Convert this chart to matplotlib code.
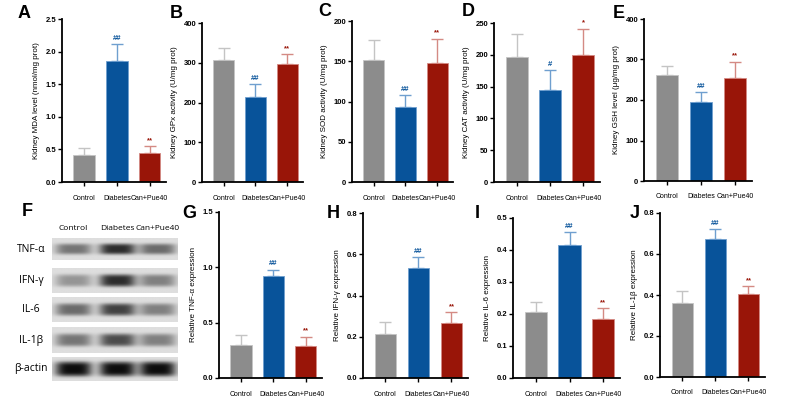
import matplotlib.pyplot as plt
import numpy as np

plt.rcParams['font.family'] = ['Liberation Sans', 'DejaVu Sans']

W, H = 793, 403

groups = ["Control", "Diabetes", "Can+Pue40"]

mda = [0.41, 1.85, 0.44]
mda_err = [0.11, 0.26, 0.11]
gpx = [307, 214, 298]
gpx_err = [30, 33, 24]
sod = [151, 93, 148]
sod_err = [26, 15, 30]
cat = [197, 145, 199]
cat_err = [35, 31, 42]
gsh = [261, 196, 254]
gsh_err = [23, 24, 41]
tnf = [0.30, 0.92, 0.29]
tnf_err = [0.09, 0.06, 0.085]
ifn = [0.215, 0.535, 0.265]
ifn_err = [0.055, 0.05, 0.053]
il6 = [0.207, 0.415, 0.183]
il6_err = [0.03, 0.042, 0.035]
il1b = [0.36, 0.675, 0.405]
il1b_err = [0.06, 0.045, 0.037]

marks_dd = ["", "##", "**"]
marks_s = ["", "#", "*"]

# western blot band darkness (0..1), rows x lanes
blot_rows = ["TNF-\u03b1", "IFN-\u03b3", "IL-6", "IL-1\u03b2", "\u03b2-actin"]
blot_dark = [
    [0.50, 0.85, 0.55],
    [0.35, 0.85, 0.45],
    [0.55, 0.75, 0.45],
    [0.50, 0.70, 0.45],
    [1.00, 1.00, 1.00],
]

bar_colors = ["#8c8c8c", "#08539a", "#991508"]
err_colors = ["#c4c4c4", "#6f9fcf", "#d48a84"]

fig = plt.figure(figsize=(W / 100, H / 100), dpi=100)


def px_axes(x0, yt, x1, yb):
    return fig.add_axes([x0 / W, 1 - yb / H, (x1 - x0) / W, (yb - yt) / H])


def bar_panel(rect, vals, errs, marks, ymax, ystep, ylabel, fmt):
    ax = px_axes(*rect)
    x = np.arange(len(groups))
    for i in range(len(groups)):
        ax.errorbar(x[i], vals[i], yerr=[[0], [errs[i]]], fmt='none',
                    ecolor=err_colors[i], elinewidth=1, capsize=4, capthick=1, zorder=1)
        ax.bar(x[i], vals[i], width=0.66, color=bar_colors[i],
               edgecolor=err_colors[i], linewidth=0.6, zorder=2)
        if marks[i]:
            ax.annotate(marks[i], (x[i], vals[i] + errs[i]), xytext=(0, 1.5),
                        textcoords='offset points', ha='center', va='bottom',
                        fontsize=5.5, color=bar_colors[i], fontweight='bold')
    ax.set_xlim(-0.68, 2.5)
    ax.set_ylim(0, ymax)
    ax.set_yticks(np.arange(0, ymax + ystep / 2, ystep))
    ax.yaxis.set_major_formatter(plt.FormatStrFormatter(fmt))
    ax.set_xticks(x)
    ax.set_xticklabels(groups, fontsize=5)
    ax.tick_params(axis='y', labelsize=5.5, length=3, width=1, pad=1)
    ax.tick_params(axis='x', length=3, width=1, pad=6)
    for lab in ax.get_yticklabels():
        lab.set_fontweight('bold')
    for s in ['top', 'right']:
        ax.spines[s].set_visible(False)
    for s in ['left', 'bottom']:
        ax.spines[s].set_linewidth(1.3)
    ax.set_ylabel(ylabel, fontsize=5.8, labelpad=4)
    return ax


bar_panel((62, 19, 166, 182), mda, mda_err, marks_dd, 2.5, 0.5,
          "Kidney MDA level (nmol/mg prot)", "%.1f")
bar_panel((202, 23, 303, 182), gpx, gpx_err, marks_dd, 400, 100,
          "Kidney GPx activity (U/mg prot)", "%d")
bar_panel((352, 21, 453, 182), sod, sod_err, marks_dd, 200, 50,
          "Kidney SOD activity (U/mg prot)", "%d")
bar_panel((494, 23, 600, 182), cat, cat_err, marks_s, 250, 50,
          "Kidney CAT activity (U/mg prot)", "%d")
bar_panel((644, 19, 752, 181), gsh, gsh_err, marks_dd, 400, 100,
          "Kidney GSH level (\u03bcg/mg prot)", "%d")
bar_panel((219, 212, 322, 378), tnf, tnf_err, marks_dd, 1.5, 0.5,
          "Relative TNF-\u03b1 expression", "%.1f")
bar_panel((363, 213, 468, 378), ifn, ifn_err, marks_dd, 0.8, 0.2,
          "Relative IFN-\u03b3 expression", "%.1f")
bar_panel((513, 218, 620, 378), il6, il6_err, marks_dd, 0.5, 0.1,
          "Relative IL-6 expression", "%.1f")
bar_panel((660, 213, 765, 377), il1b, il1b_err, marks_dd, 0.8, 0.2,
          "Relative IL-1\u03b2 expression", "%.1f")

# western blot panel
bx = fig.add_axes([0, 0, 190 / W, 203 / H])
bx.axis('off')
row_boxes = [(238, 260), (268, 293), (297, 322), (327, 353), (357, 381)]
box_x0, box_x1 = 52, 178
lane_c = [0.17, 0.52, 0.84]
for r, (y0, y1) in enumerate(row_boxes):
    nx, ny = 180, 40
    gx, gy = np.meshgrid(np.linspace(0, 1, nx), np.linspace(-1, 1, ny))
    img = np.full((ny, nx), 0.87)
    thick = 0.5 if r < 4 else 0.62
    for j, c in enumerate(lane_c):
        band = np.exp(-((gx - c) / 0.145) ** 4) * np.exp(-(gy / thick) ** 4)
        img -= blot_dark[r][j] * 0.82 * band
    bx.imshow(img, cmap='gray', vmin=0, vmax=1, extent=(box_x0, box_x1, y1, y0),
              aspect='auto', interpolation='bilinear')
    bx.text(31, (y0 + y1) / 2, blot_rows[r], ha='center', va='center',
            fontsize=7.5, family=['Open Sans', 'DejaVu Sans'])
for j, g in enumerate(groups):
    bx.text(box_x0 + lane_c[j] * (box_x1 - box_x0), 228, g, ha='center',
            va='center', fontsize=6, family=['Open Sans', 'DejaVu Sans'])
bx.set_xlim(0, 190)
bx.set_ylim(403, 200)

letters = [("A", 18, 13), ("B", 170, 13), ("C", 318, 12), ("D", 462, 12),
           ("E", 613, 13), ("F", 22, 212), ("G", 182, 213), ("H", 327, 213),
           ("I", 475, 213), ("J", 630, 213)]
for t, lx, ly in letters:
    fig.text(lx / W, 1 - ly / H, t, fontsize=13, fontweight='bold',
             ha='left', va='center')

fig.savefig("out.png", dpi=100)
